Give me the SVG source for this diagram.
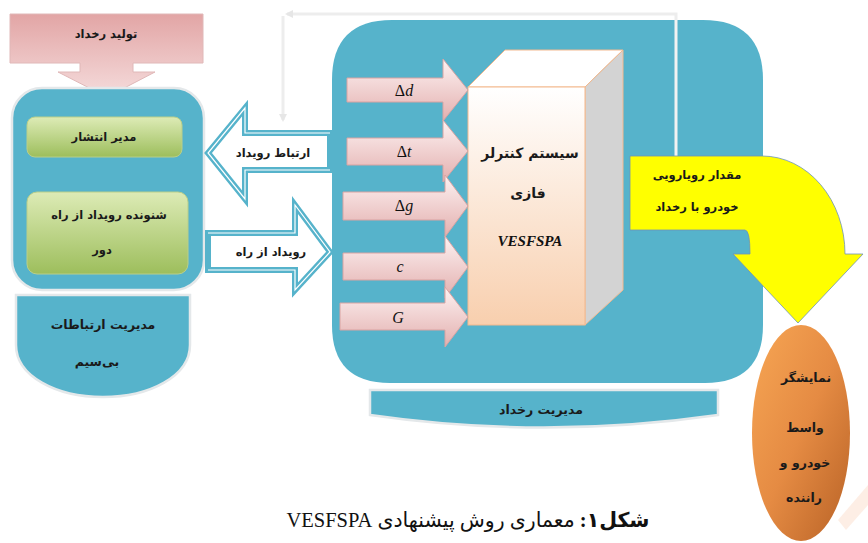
<svg xmlns="http://www.w3.org/2000/svg" width="868" height="543" viewBox="0 0 868 543">
<defs>
<linearGradient id="gPink" x1="0" y1="0" x2="0" y2="1"><stop offset="0" stop-color="#FDF2F2"/><stop offset="1" stop-color="#E3AFAE"/></linearGradient>
<linearGradient id="gTop" x1="0" y1="0" x2="0" y2="1"><stop offset="0" stop-color="#E2A5A5"/><stop offset="1" stop-color="#F5DCDC"/></linearGradient>
<linearGradient id="gGreen" x1="0" y1="0" x2="0" y2="1"><stop offset="0" stop-color="#DDEBB6"/><stop offset="1" stop-color="#9DBE5C"/></linearGradient>
<linearGradient id="gFront" x1="0" y1="0" x2="0" y2="1"><stop offset="0" stop-color="#FFFFFF"/><stop offset="1" stop-color="#F8CFAE"/></linearGradient>
<linearGradient id="gOrange" x1="0" y1="0" x2="1" y2="1"><stop offset="0" stop-color="#F7A654"/><stop offset="0.5" stop-color="#E58B43"/><stop offset="1" stop-color="#B86226"/></linearGradient>
<marker id="mArr" markerWidth="8" markerHeight="8" refX="6" refY="4" orient="auto" markerUnits="userSpaceOnUse"><path d="M0,0 L8,4 L0,8 Z" fill="#E6E6E6"/></marker>
<style>
.blue{fill:#56B3CB}
.edge{stroke:#E4E8EA;stroke-width:2.5}
.lbl{font-family:"DejaVu Sans",sans-serif;font-weight:bold;font-size:11.5px;fill:#1a1a1a;text-anchor:middle}
.math{font-family:"Liberation Serif",serif;font-style:italic;font-size:16px;fill:#111;text-anchor:middle}
.pink{fill:url(#gPink);stroke:#D9A3A2;stroke-width:1}
.green{fill:url(#gGreen);stroke:#B9CF8A;stroke-width:1}
.hollow{fill:#FFFFFF;stroke:#56B3CB;stroke-width:6;stroke-linejoin:miter}
.hollowIn{fill:none;stroke:#FFFFFF;stroke-width:1.2}
.conn{fill:none;stroke:#EDEDED;stroke-width:3}
</style>
</defs>
<rect width="868" height="543" fill="#FFFFFF"/>

<g id="connectors">
<path class="conn" d="M676,155 V14 H287" marker-end="url(#mArr)"/>
<path class="conn" d="M283,16 V120" marker-end="url(#mArr)"/>
</g>

<g id="event-generation">
<path d="M10,14 H203 V63 H133 V72 H155 L107,97 L58,72 H80 V63 H10 Z" fill="url(#gTop)" stroke="#E0B8B8" stroke-width="1"/>
<text class="lbl" x="106" y="38">تولید رخداد</text>
</g>

<g id="left-panel">
<rect x="12" y="88" width="192" height="202" rx="30" class="blue edge"/>
</g>

<g id="dissemination-manager">
<rect x="27" y="117" width="155" height="40" rx="8" class="green"/>
<text class="lbl" x="104" y="141">مدیر انتشار</text>
</g>

<g id="remote-listener">
<rect x="27" y="192" width="161" height="82" rx="10" class="green"/>
<text class="lbl" x="109" y="219">شنونده رویداد از راه</text>
<text class="lbl" x="102" y="254">دور</text>
</g>

<g id="wireless-manager">
<path d="M16,295 H190 V345 C190,376 150,397 103,397 C56,397 16,376 16,345 Z" class="blue edge"/>
<text class="lbl" x="103" y="329" style="font-size:12.5px">مدیریت ارتباطات</text>
<text class="lbl" x="97" y="366" style="font-size:12.5px">بی‌سیم</text>
</g>

<g id="event-management">
<path d="M332,80 Q332,20 392,20 H703 Q763,20 763,80 V325 Q763,383 705,383 H390 Q332,383 332,325 Z" class="blue"/>
<line x1="676" y1="20" x2="676" y2="156" stroke="#F2F2F2" stroke-width="3"/>
</g>

<g id="event-management-label">
<path d="M370,390 H718 V415 Q544,440 370,415 Z" class="blue edge"/>
<text class="lbl" x="541" y="414" style="font-size:12.5px">مدیریت رخداد</text>
</g>

<g id="event-link-arrow">
<path class="hollow" d="M330,133 H245 V108 L208,153 L245,199 V170 H330 Z"/>
<path class="hollowIn" d="M330,133 H245 V108 L208,153 L245,199 V170 H330"/>
<text class="lbl" x="273" y="157">ارتباط رویداد</text>
</g>

<g id="remote-event-arrow">
<path class="hollow" d="M208,233 H295 V205 L330,252 L295,290 V270 H208 Z"/>
<path class="hollowIn" d="M208,233 H295 V205 L330,252 L295,290 V270 H208"/>
<text class="lbl" x="271" y="256">رویداد از راه</text>
</g>

<g id="fuzzy-controller">
<path d="M468,87 L505,50 H623 L585,87 Z" fill="#FFFFFF" stroke="#F3B98F" stroke-width="1"/>
<path d="M585,87 L623,50 V290 L585,325 Z" fill="#D3D3D3" stroke="#F3B98F" stroke-width="1"/>
<rect x="468" y="87" width="117" height="238" fill="url(#gFront)" stroke="#F3B98F" stroke-width="1"/>
<text class="lbl" x="530" y="158" style="font-size:14px">سیستم کنترلر</text>
<text class="lbl" x="528" y="198" style="font-size:14px">فازی</text>
<text x="530" y="246" style="font-family:'Liberation Serif',serif;font-weight:bold;font-style:italic;font-size:15px;fill:#111;text-anchor:middle">VESFSPA</text>
</g>

<g id="input-dd">
<path class="pink" d="M347,78 H443 V59 L468,90 L443,121 V102 H347 Z"/>
<text class="math" x="404" y="96"><tspan font-style="normal">Δ</tspan>d</text>
</g>
<g id="input-dt">
<path class="pink" d="M347,138 H443 V120 L468,151 L443,182 V165 H347 Z"/>
<text class="math" x="404" y="157"><tspan font-style="normal">Δ</tspan>t</text>
</g>
<g id="input-dg">
<path class="pink" d="M343,192 H445 V175 L468,206 L445,237 V220 H343 Z"/>
<text class="math" x="404" y="211"><tspan font-style="normal">Δ</tspan>g</text>
</g>
<g id="input-c">
<path class="pink" d="M343,253 H445 V236 L468,267 L445,298 V280 H343 Z"/>
<text class="math" x="400" y="272">c</text>
</g>
<g id="input-G">
<path class="pink" d="M340,303 H445 V287 L468,317 L445,347 V330 H340 Z"/>
<text class="math" x="398" y="323">G</text>
</g>

<g id="encounter-arrow">
<path d="M630,156 H762 A83,98 0 0 1 845,254 H863 L798,323 L733,254 H750 Q750,230 745,230 H630 Z" fill="#FFFF00" stroke="#6F93B8" stroke-width="0.8"/>
<text class="lbl" x="697" y="179">مقدار رویارویی</text>
<text class="lbl" x="697" y="211">خودرو با رخداد</text>
</g>

<path d="M838,520 L868,485 L868,505 L846,530 Z" fill="#FBE3D3" opacity="0.6"/>

<g id="driver-display">
<ellipse cx="801" cy="433" rx="49" ry="108" fill="url(#gOrange)"/>
<text class="lbl" x="806" y="382" style="font-size:12.5px">نمایشگر</text>
<text class="lbl" x="805" y="432" style="font-size:12.5px">واسط</text>
<text class="lbl" x="805" y="467" style="font-size:12.5px">خودرو و</text>
<text class="lbl" x="804" y="502" style="font-size:12.5px">راننده</text>
</g>

<text x="468" y="527" direction="rtl" style="font-family:'Liberation Serif','DejaVu Sans',serif;font-size:20.5px;fill:#111;text-anchor:middle"><tspan font-weight="bold">شکل۱:</tspan> معماری روش پیشنهادی VESFSPA</text>
</svg>
